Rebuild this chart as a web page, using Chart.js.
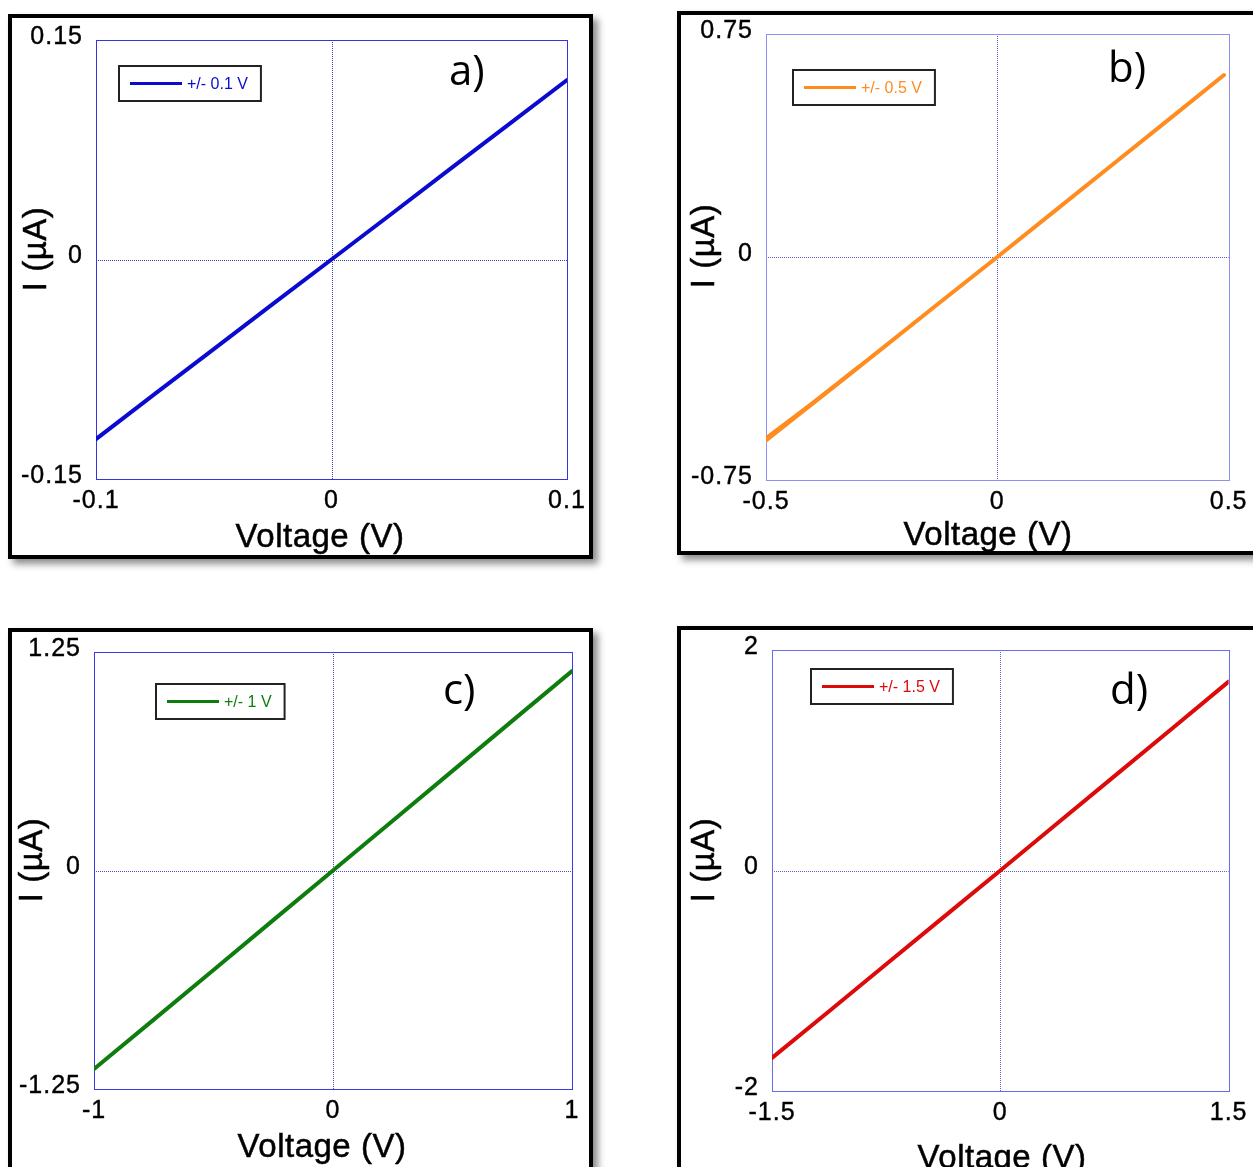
<!DOCTYPE html>
<html>
<head>
<meta charset="utf-8">
<script src="https://cdn.jsdelivr.net/npm/chart.js@4.4.1/dist/chart.umd.min.js"></script>
<style>
  html, body { margin: 0; padding: 0; background: #fff; }
  #page { position: relative; width: 1253px; height: 1167px; overflow: hidden; background: #fff; }
  .frame { position: absolute; box-sizing: border-box; border: 4px solid #000; background: #fff;
           box-shadow: 5px 5px 7px rgba(0,0,0,0.45); }
  canvas { position: absolute; }
</style>
</head>
<body>
<div id="page">
  <div class="frame" style="left:8px;top:14px;width:585px;height:545px"></div>
  <div class="frame" style="left:677px;top:11px;width:620px;height:544px"></div>
  <div class="frame" style="left:8px;top:628px;width:585px;height:620px"></div>
  <div class="frame" style="left:677px;top:626px;width:620px;height:620px"></div>

  <canvas id="chartA" width="620" height="600" style="left:0px;top:0px"></canvas>
  <canvas id="chartB" width="593" height="600" style="left:660px;top:0px"></canvas>
  <canvas id="chartC" width="620" height="557" style="left:0px;top:610px"></canvas>
  <canvas id="chartD" width="593" height="557" style="left:660px;top:610px"></canvas>
</div>

<script>
// ---- I-V sweep data (voltage in V, current in µA) ----
const voltageA = [-0.1, -0.075, -0.05, -0.025, 0, 0.025, 0.05, 0.075, 0.1];
const currentA = [-0.1227, -0.0918, -0.0612, -0.0305, 0, 0.0306, 0.0614, 0.0920, 0.1226];

const voltageB = [-0.5, -0.375, -0.25, -0.125, 0, 0.125, 0.25, 0.375, 0.49];
const currentB = [-0.617, -0.463, -0.309, -0.154, 0, 0.156, 0.312, 0.468, 0.612];
// return sweep, visible as a thickening of the trace at the negative end
const retraceVoltageB = [-0.5, -0.45, -0.4, -0.35, -0.3];
const retraceCurrentB = [-0.610, -0.551, -0.492, -0.432, -0.370];

const voltageC = [-1, -0.75, -0.5, -0.25, 0, 0.25, 0.5, 0.75, 1];
const currentC = [-1.136, -0.853, -0.569, -0.284, 0, 0.285, 0.570, 0.856, 1.141];

const voltageD = [-1.5, -1.125, -0.75, -0.375, 0, 0.375, 0.75, 1.125, 1.5];
const currentD = [-1.700, -1.276, -0.851, -0.425, 0, 0.428, 0.856, 1.284, 1.713];

// ---- axis ticks ----
const xTicksA = [-0.1, 0, 0.1];   const xTickLabelsA = ['-0.1', '0', '0.1'];
const yTicksA = [-0.15, 0, 0.15]; const yTickLabelsA = ['-0.15', '0', '0.15'];
const xTicksB = [-0.5, 0, 0.5];   const xTickLabelsB = ['-0.5', '0', '0.5'];
const yTicksB = [-0.75, 0, 0.75]; const yTickLabelsB = ['-0.75', '0', '0.75'];
const xTicksC = [-1, 0, 1];       const xTickLabelsC = ['-1', '0', '1'];
const yTicksC = [-1.25, 0, 1.25]; const yTickLabelsC = ['-1.25', '0', '1.25'];
const xTicksD = [-1.5, 0, 1.5];   const xTickLabelsD = ['-1.5', '0', '1.5'];
const yTicksD = [-2, 0, 2];       const yTickLabelsD = ['-2', '0', '2'];

// ---- legend / panel texts ----
const seriesNames = ['+/- 0.1 V', '+/- 0.5 V', '+/- 1 V', '+/- 1.5 V'];
const panelLetters = ['a)', 'b)', 'c)', 'd)'];
const xTitle = 'Voltage (V)';
const yTitle = 'I (µA)';

const SANS = '"Liberation Sans", Arial, Helvetica, sans-serif';
Chart.defaults.font.family = SANS;

// Page-coordinate layout for each panel (origin = canvas top-left on the page)
const panels = [
  { id: 'chartA', origin: [0, 0], area: [96, 40, 567, 479],
    color: '#0b0bd0', frameColor: '#3535e0', zeroColor: '#3a3ab0',
    x: voltageA, y: currentA, xTicks: xTicksA, xLabels: xTickLabelsA, yTicks: yTicksA, yLabels: yTickLabelsA,
    name: seriesNames[0], letter: panelLetters[0],
    legend: [119, 66], letterPos: [449, 85], xTitlePos: [320, 547], yTitlePos: [46, 249] },
  { id: 'chartB', origin: [660, 0], area: [766, 34, 1233, 480],
    color: '#ff8c1f', frameColor: '#8f8ff2', zeroColor: '#5a5ad0',
    x: voltageB, y: currentB, xTicks: xTicksB, xLabels: xTickLabelsB, yTicks: yTicksB, yLabels: yTickLabelsB,
    extra: { x: retraceVoltageB, y: retraceCurrentB },
    name: seriesNames[1], letter: panelLetters[1],
    legend: [793, 70], letterPos: [1108, 82], xTitlePos: [988, 545], yTitlePos: [714, 246] },
  { id: 'chartC', origin: [0, 610], area: [94, 652, 572, 1089],
    color: '#0e7d0e', frameColor: '#3a3ae6', zeroColor: '#4848d0',
    x: voltageC, y: currentC, xTicks: xTicksC, xLabels: xTickLabelsC, yTicks: yTicksC, yLabels: yTickLabelsC,
    name: seriesNames[2], letter: panelLetters[2],
    legend: [156, 684], letterPos: [443, 704], xTitlePos: [322, 1157], yTitlePos: [42, 860] },
  { id: 'chartD', origin: [660, 610], area: [772, 650, 1233, 1091],
    color: '#dd0a0a', frameColor: '#6b6bee', zeroColor: '#5c5cd8',
    x: voltageD, y: currentD, xTicks: xTicksD, xLabels: xTickLabelsD, yTicks: yTicksD, yLabels: yTickLabelsD,
    name: seriesNames[3], letter: panelLetters[3],
    legend: [811, 669], letterPos: [1110, 704], xTitlePos: [1002, 1168], yTitlePos: [714, 860] }
];

function makeDecor(p) {
  const ox = p.origin[0], oy = p.origin[1];
  return {
    id: 'panelDecor',
    beforeDraw(chart) {
      chart.ctx.letterSpacing = '1px';
    },
    beforeDatasetsDraw(chart) {
      const ctx = chart.ctx;
      ctx.letterSpacing = '0px';
      const a = chart.chartArea;
      const xs = chart.scales.x, ys = chart.scales.y;
      ctx.save();
      // dotted zero lines
      ctx.strokeStyle = p.zeroColor;
      ctx.lineWidth = 1;
      ctx.setLineDash([1, 1]);
      const x0 = Math.round(xs.getPixelForValue(0)) + 0.5;
      const y0 = Math.round(ys.getPixelForValue(0)) + 0.5;
      ctx.beginPath();
      ctx.moveTo(x0, a.top); ctx.lineTo(x0, a.bottom);
      ctx.moveTo(a.left, y0); ctx.lineTo(a.right, y0);
      ctx.stroke();
      // plot frame
      ctx.setLineDash([]);
      ctx.strokeStyle = p.frameColor;
      ctx.strokeRect(Math.round(a.left) + 0.5, Math.round(a.top) + 0.5,
                     Math.round(a.right - a.left), Math.round(a.bottom - a.top));
      ctx.restore();
    },
    afterDraw(chart) {
      const ctx = chart.ctx;
      ctx.save();
      ctx.letterSpacing = '0px';
      // legend box
      ctx.font = '16px ' + SANS;
      const tw = ctx.measureText(p.name).width;
      const lx = p.legend[0] - ox, ly = p.legend[1] - oy;
      const bw = 11 + 52 + 5 + tw + 13, bh = 35;
      ctx.fillStyle = '#fff';
      ctx.fillRect(lx, ly, bw, bh);
      ctx.strokeStyle = '#222';
      ctx.lineWidth = 2;
      ctx.strokeRect(lx, ly, bw, bh);
      ctx.strokeStyle = p.color;
      ctx.lineWidth = 3;
      ctx.beginPath();
      ctx.moveTo(lx + 11, ly + bh / 2);
      ctx.lineTo(lx + 63, ly + bh / 2);
      ctx.stroke();
      ctx.fillStyle = p.color;
      ctx.textBaseline = 'middle';
      ctx.textAlign = 'left';
      ctx.fillText(p.name, lx + 68, ly + bh / 2 + 1);

      // panel letter
      ctx.fillStyle = '#000';
      ctx.textBaseline = 'alphabetic';
      ctx.font = '42px "Open Sans", ' + SANS;
      ctx.fillText(p.letter, p.letterPos[0] - ox, p.letterPos[1] - oy);

      // axis titles
      ctx.font = '33px ' + SANS;
      ctx.letterSpacing = '0.5px';
      ctx.textAlign = 'center';
      ctx.strokeStyle = '#000';
      ctx.lineWidth = 0.5;
      const tx = p.xTitlePos[0] - ox, ty = p.xTitlePos[1] - oy;
      ctx.fillText(xTitle, tx, ty);
      ctx.strokeText(xTitle, tx, ty);
      ctx.translate(p.yTitlePos[0] - ox, p.yTitlePos[1] - oy);
      ctx.rotate(-Math.PI / 2);
      ctx.fillText(yTitle, 0, 0);
      ctx.strokeText(yTitle, 0, 0);
      ctx.restore();
      ctx.letterSpacing = '0px';
    }
  };
}

function buildPanel(p) {
  const cv = document.getElementById(p.id);
  const W = cv.width, H = cv.height;
  const ox = p.origin[0], oy = p.origin[1];
  const aL = p.area[0] - ox, aT = p.area[1] - oy, aR = p.area[2] - ox, aB = p.area[3] - oy;

  const lineStyle = {
    showLine: true, borderColor: p.color, backgroundColor: p.color, borderWidth: 4,
    pointRadius: 0, pointHoverRadius: 0, tension: 0,
    borderCapStyle: 'round', borderJoinStyle: 'round'
  };
  const datasets = [
    Object.assign({ label: p.name, data: p.x.map((v, i) => ({ x: v, y: p.y[i] })) }, lineStyle)
  ];
  if (p.extra) {
    datasets.push(Object.assign({ label: p.name + ' return',
      data: p.extra.x.map((v, i) => ({ x: v, y: p.extra.y[i] })) }, lineStyle));
  }

  const tickFont = { family: SANS, size: 25 };
  const tickStyle = { color: '#000', textStrokeColor: '#000', textStrokeWidth: 0.4, font: tickFont };
  new Chart(cv, {
    type: 'scatter',
    data: { datasets },
    options: {
      responsive: false,
      animation: false,
      devicePixelRatio: 1,
      events: [],
      layout: { padding: { left: 0, top: aT, right: W - aR, bottom: 0 } },
      plugins: { legend: { display: false }, tooltip: { enabled: false } },
      scales: {
        x: {
          type: 'linear', position: 'bottom',
          min: p.xTicks[0], max: p.xTicks[p.xTicks.length - 1],
          grid: { display: false, drawTicks: false }, border: { display: false },
          ticks: Object.assign({ autoSkip: false, maxRotation: 0, minRotation: 0, padding: 7,
                   callback: (v, i) => p.xLabels[i] }, tickStyle),
          afterBuildTicks: sc => { sc.ticks = p.xTicks.map(v => ({ value: v })); },
          afterFit: sc => { sc.height = H - aB; }
        },
        y: {
          type: 'linear', position: 'left',
          min: p.yTicks[0], max: p.yTicks[p.yTicks.length - 1],
          grid: { display: false, drawTicks: false }, border: { display: false },
          ticks: Object.assign({ autoSkip: false, padding: 13, labelOffset: -3,
                   callback: (v, i) => p.yLabels[i] }, tickStyle),
          afterBuildTicks: sc => { sc.ticks = p.yTicks.map(v => ({ value: v })); },
          afterFit: sc => { sc.width = aL; }
        }
      }
    },
    plugins: [makeDecor(p)]
  });
}

panels.forEach(buildPanel);
</script>
</body>
</html>
